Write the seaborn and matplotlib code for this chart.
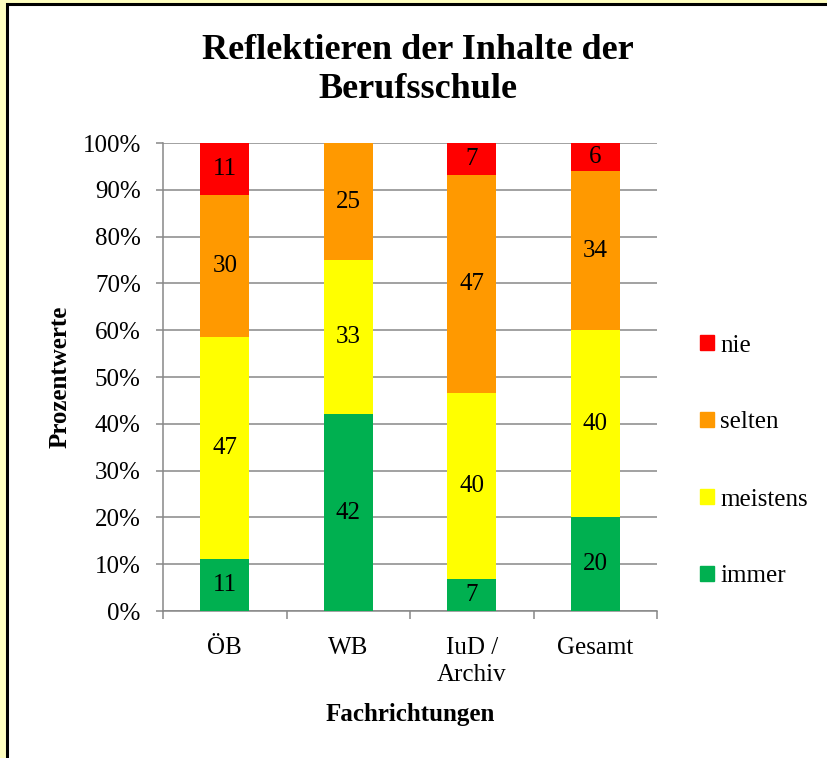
import numpy as np
import pandas as pd
import matplotlib
matplotlib.use("Agg")
import matplotlib.pyplot as plt
import matplotlib.patches as mpatches
from matplotlib.ticker import PercentFormatter
import seaborn as sns

# Daten (Prozentwerte laut Beschriftung)
kategorien = ["ÖB", "WB", "IuD /\nArchiv", "Gesamt"]
immer = [11, 42, 7, 20]
meistens = [47, 33, 40, 40]
selten = [30, 25, 47, 34]
nie = [11, 0, 7, 6]

serien = ["immer", "meistens", "selten", "nie"]
farben = {"immer": "#00B050", "meistens": "#FFFF00", "selten": "#FF9900", "nie": "#FF0000"}

df = pd.DataFrame({"Fachrichtung": kategorien, "immer": immer, "meistens": meistens,
                   "selten": selten, "nie": nie})
summe = df[serien].sum(axis=1)
anteile = df[serien].div(summe, axis=0) * 100
kumuliert = anteile.cumsum(axis=1)

sns.set_style("white")
plt.rcParams["font.family"] = ["Liberation Serif", "DejaVu Serif"]
plt.rcParams["text.color"] = "black"
plt.rcParams["xtick.color"] = "black"
plt.rcParams["ytick.color"] = "black"
plt.rcParams["axes.labelcolor"] = "black"

fig = plt.figure(figsize=(8.28, 7.58), dpi=100)
fig.patch.set_facecolor("#FFFFC0")
# weisser Rahmen mit schwarzer Linie
rahmen = mpatches.Rectangle((7 / 828, -0.05), 1.1, 1 - 4 / 758 + 0.05, transform=fig.transFigure,
                            facecolor="white", edgecolor="black", linewidth=2.2, zorder=-5)
fig.patches.append(rahmen)

ax = fig.add_axes([163 / 828, 1 - 611 / 758, 494 / 828, 468 / 758])
ax.set_facecolor("none")

# gestapelte Balken: von oben nach unten übereinander zeichnen
for s in reversed(serien):
    plot_df = pd.DataFrame({"Fachrichtung": kategorien, "wert": kumuliert[s].values})
    sns.barplot(data=plot_df, x="Fachrichtung", y="wert", color=farben[s], width=0.4,
                saturation=1, ax=ax, zorder=3, linewidth=0, edgecolor="none")

# Werte beschriften
for i in range(len(kategorien)):
    unten = 0
    for s in serien:
        h = anteile[s].iloc[i]
        if df[s].iloc[i] > 0:
            ax.text(i, unten + h / 2, str(df[s].iloc[i]), ha="center", va="center",
                    fontsize=18, color="black", zorder=5)
        unten += h

ax.set_ylim(0, 100)
ax.set_xlim(-0.5, len(kategorien) - 0.5)
ax.set_yticks(np.arange(0, 101, 10))
ax.yaxis.set_major_formatter(PercentFormatter(decimals=0))
ax.yaxis.grid(True, color="#888888", linewidth=1.1, zorder=0)
ax.set_axisbelow(True)

for sp in ["top", "right"]:
    ax.spines[sp].set_visible(False)
for sp in ["left", "bottom"]:
    ax.spines[sp].set_color("#888888")
    ax.spines[sp].set_linewidth(1.1)

ax.tick_params(axis="y", which="major", length=5, width=1.1, color="#888888",
               labelsize=18, pad=11, left=True, labelcolor="black")
ax.set_xticks(np.arange(-0.5, len(kategorien)), minor=True)
ax.tick_params(axis="x", which="minor", length=6, width=1.1, color="#888888", bottom=True)
ax.tick_params(axis="x", which="major", length=0, labelsize=18, pad=19, labelcolor="black")
ax.set_xticklabels(kategorien, linespacing=1.3)

ax.set_xlabel("Fachrichtungen", fontsize=18, fontweight="bold", labelpad=12, color="black")
ax.set_ylabel("Prozentwerte", fontsize=18, fontweight="bold", labelpad=8, color="black")

fig.text(418 / 828, 1 - 70 / 758, "Reflektieren der Inhalte der\nBerufsschule", ha="center",
         va="center", fontsize=26, fontweight="bold", linespacing=1.25, color="black")

# Legende
handles = [mpatches.Patch(color=farben[s], label=s) for s in reversed(serien)]
leg = fig.legend(handles=handles, loc="center left", bbox_to_anchor=(678 / 828, 1 - 461 / 758),
                 frameon=False, fontsize=18, labelspacing=2.2, handlelength=0.55,
                 handleheight=0.55, handletextpad=0.25)
for t in leg.get_texts():
    t.set_color("black")

fig.savefig("out.png", dpi=100, facecolor=fig.get_facecolor())
